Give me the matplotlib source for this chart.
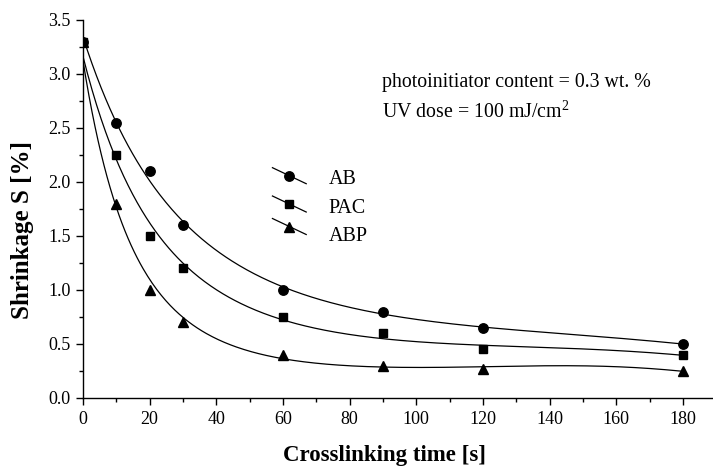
import numpy as np
import matplotlib
matplotlib.use("Agg")
import matplotlib.pyplot as plt

# ---- data ----
time_s = [0, 10, 20, 30, 60, 90, 120, 180]
series_names = ["AB", "PAC", "ABP"]
ab = [3.3, 2.55, 2.1, 1.6, 1.0, 0.8, 0.65, 0.5]
pac = [3.3, 2.25, 1.5, 1.2, 0.75, 0.6, 0.45, 0.4]
abp = [3.3, 1.8, 1.0, 0.7, 0.4, 0.3, 0.27, 0.25]
markers = ["o", "s", "^"]
marker_sizes = [6.8, 6.0, 7.4]
x_ticks = [0, 20, 40, 60, 80, 100, 120, 140, 160, 180]
y_ticks = [0.0, 0.5, 1.0, 1.5, 2.0, 2.5, 3.0, 3.5]

plt.rcParams['font.family'] = ['Liberation Serif', 'DejaVu Serif']
plt.rcParams['mathtext.fontset'] = 'custom'
plt.rcParams['mathtext.rm'] = 'Liberation Serif'


def smooth_fit(x, y, xs, deg=3):
    """Least-squares polynomial fit of log(S) versus time."""
    c = np.polyfit(np.asarray(x, float), np.log(np.asarray(y, float)), deg)
    return np.exp(np.polyval(c, xs))


fig = plt.figure(figsize=(7.13, 4.66), dpi=100)
ax = fig.add_axes([83 / 713, 68 / 466, 630 / 713, 378 / 466])

xs = np.linspace(min(time_s), max(time_s), 400)
for vals, m, ms in zip([ab, pac, abp], markers, marker_sizes):
    ax.plot(xs, smooth_fit(time_s, vals, xs), color='black', lw=0.9)
    ax.plot(time_s, vals, linestyle='none', marker=m, color='black', ms=ms)

# ---- legend (slanted line samples) ----
leg_cy = [0.5881, 0.5132, 0.4537]
leg_text_y = [0.5653, 0.4902, 0.4161]
leg_cx, dx, dy = 0.3275, 0.0268, 0.0212
for name, m, ms, cy, ty in zip(series_names, markers, marker_sizes, leg_cy, leg_text_y):
    ax.plot([leg_cx - dx, leg_cx + dx], [cy + dy, cy - dy], color='black', lw=0.9,
            transform=ax.transAxes, clip_on=False)
    ax.plot([leg_cx], [cy], marker=m, color='black', ms=ms, transform=ax.transAxes,
            clip_on=False)
    ax.text(0.3894, ty, name, transform=ax.transAxes, fontsize=14.5, va='baseline', ha='left')

# ---- axes ----
ax.set_xlim(0, 189)
ax.set_ylim(0, 3.5)
ax.set_xticks(x_ticks)
ax.set_xticks(np.arange(0, 181, 10), minor=True)
ax.set_yticks(y_ticks)
ax.set_yticks(np.arange(0, 3.51, 0.25), minor=True)
ax.set_yticklabels([f"{v:.1f}" for v in y_ticks])
ax.spines['top'].set_visible(False)
ax.spines['right'].set_visible(False)
for s in ['left', 'bottom']:
    ax.spines[s].set_linewidth(1.0)
ax.tick_params(which='both', direction='out', labelsize=13, width=1.0)
ax.tick_params(which='major', length=5, pad=4)
ax.tick_params(which='minor', length=3)

ax.set_xlabel("Crosslinking time [s]", fontsize=16.5, fontweight='bold', va='baseline')
ax.xaxis.set_label_coords(0.4786, -0.1667)
ax.set_ylabel("Shrinkage S [%]", fontsize=18, fontweight='bold', va='baseline')
ax.yaxis.set_label_coords(-0.0857, 0.444)

ax.text(0.4746, 0.822, "photoinitiator content = 0.3 wt. %", transform=ax.transAxes,
        fontsize=14.3, va='baseline', ha='left')
ax.text(0.4746, 0.7415, "UV dose = 100 mJ/cm$^2$", transform=ax.transAxes,
        fontsize=14.3, va='baseline', ha='left')

fig.savefig("out.png", dpi=100)
